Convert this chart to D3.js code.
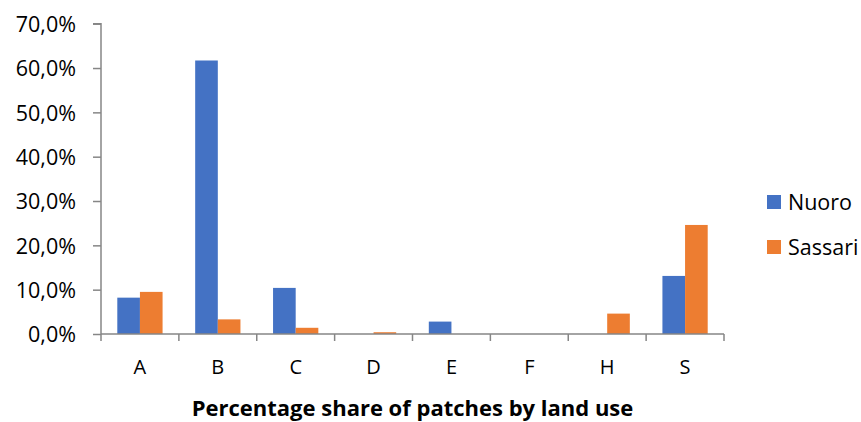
<!DOCTYPE html>
<html>
<head>
<meta charset="utf-8">
<script src="https://cdn.jsdelivr.net/npm/d3@7"></script>
<style>
  html, body { margin: 0; padding: 0; background: #fff; }
  svg { display: block; }
  svg text { font-family: "Open Sans", sans-serif; }
</style>
</head>
<body>
<svg id="chart" width="861" height="422"></svg>
<script>
const categories = ["A", "B", "C", "D", "E", "F", "H", "S"];
const nuoro   = [8.2, 61.7, 10.4, 0.0, 2.8, 0.0, 0.0, 13.1];
const sassari = [9.5, 3.3, 1.4, 0.4, 0.0, 0.0, 4.6, 24.6];
const seriesNames = ["Nuoro", "Sassari"];
const seriesColors = ["#4472C4", "#ED7D31"];
const yTicks = [0, 10, 20, 30, 40, 50, 60, 70];
const xTitle = "Percentage share of patches by land use";

const FONT = "'Open Sans', sans-serif";
const svg = d3.select("#chart");
const margin = { left: 101, right: 137, top: 23.7, bottom: 88 };
const W = 861, H = 422;
const x0 = d3.scaleBand().domain(categories).range([margin.left, W - margin.right]).paddingInner(0).paddingOuter(0);
const x1 = d3.scaleBand().domain(seriesNames).range([0, x0.bandwidth()]).paddingInner(0).paddingOuter(0.72);
const y = d3.scaleLinear().domain([0, 70]).range([H - margin.bottom, margin.top]);
const axisColor = "#868686";

const data = categories.map((c, i) => ({ cat: c, vals: [nuoro[i], sassari[i]] }));

// bars
const g = svg.append("g");
data.forEach(d => {
  d.vals.forEach((v, j) => {
    if (v <= 0) return;
    g.append("rect")
      .attr("x", x0(d.cat) + x1(seriesNames[j]))
      .attr("y", y(v))
      .attr("width", x1.bandwidth())
      .attr("height", y(0) - y(v))
      .attr("fill", seriesColors[j]);
  });
});

// y axis
const yAxis = d3.axisLeft(y).tickValues(yTicks).tickSize(8).tickPadding(17)
  .tickFormat(d => d.toFixed(1).replace(".", ",") + "%");
const ya = svg.append("g").attr("transform", `translate(${margin.left},0)`).call(yAxis)
  .attr("font-family", FONT);
ya.select(".domain").attr("stroke", axisColor).attr("stroke-width", 1.5).attr("d", `M-8,${y(70)}H0V${y(0)}`);
ya.selectAll(".tick line").attr("stroke", axisColor).attr("stroke-width", 1.5);
ya.selectAll(".tick text").attr("fill", "#000").style("font-size", "21.5px").attr("dy", "0.36em");

// x axis
const xAxis = d3.axisBottom(x0).tickSize(0).tickPadding(26);
const xa = svg.append("g").attr("transform", `translate(0,${y(0)})`).call(xAxis)
  .attr("font-family", FONT);
xa.select(".domain").attr("stroke", axisColor).attr("stroke-width", 1.5)
  .attr("d", `M${margin.left},0H${W - margin.right}`);
xa.selectAll(".tick text").attr("fill", "#000").style("font-size", "20px").attr("dy", "0.71em");
// category boundary ticks
const bounds = categories.map(c => x0(c)).concat([x0(categories[categories.length - 1]) + x0.bandwidth()]);
xa.selectAll(".bound").data(bounds).join("line").attr("class", "bound")
  .attr("x1", d => d).attr("x2", d => d).attr("y1", 0).attr("y2", 7)
  .attr("stroke", axisColor).attr("stroke-width", 1.5);

// x title
svg.append("text").attr("x", (margin.left + W - margin.right) / 2).attr("y", 416)
  .attr("text-anchor", "middle").style("font-size", "22px").style("font-weight", "bold")
  .text(xTitle);

// legend
const lg = svg.append("g");
seriesNames.forEach((n, i) => {
  const ly = 202 + i * 45;
  lg.append("rect").attr("x", 767).attr("y", ly - 7).attr("width", 14).attr("height", 14).attr("fill", seriesColors[i]);
  lg.append("text").attr("x", 788).attr("y", ly).attr("dy", "0.36em").style("font-size", "21.5px").text(n);
});
</script>
</body>
</html>
